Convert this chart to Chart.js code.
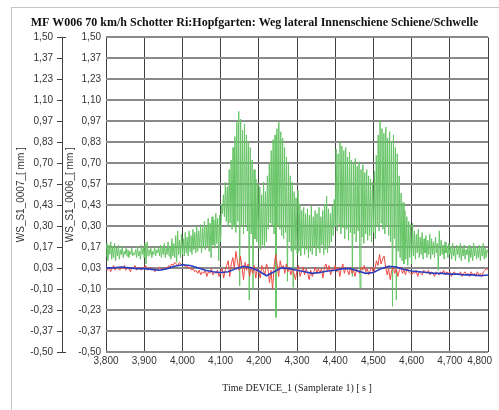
<!DOCTYPE html>
<html>
<head>
<meta charset="utf-8">
<script src="https://cdn.jsdelivr.net/npm/chart.js@4.4.1/dist/chart.umd.min.js"></script>
<style>
  html, body { margin: 0; padding: 0; background: #fff; }
  canvas { display: block; }
</style>
</head>
<body>
<canvas id="myChart" width="499" height="410"></canvas>
<script>
// time axis: every series starts at 3.8 s, each has its own sample step
const T_START = 3.8;
const STEP_GREEN = 0.0025;
const STEP_RED = 0.004;
const STEP_BLUE = 0.02;

const X_TICKS = [3.8, 3.9, 4.0, 4.1, 4.2, 4.3, 4.4, 4.5, 4.6, 4.7, 4.8];
const Y_TICKS = [1.5, 1.3667, 1.2333, 1.1, 0.9667, 0.8333, 0.7, 0.5667, 0.4333, 0.3, 0.1667, 0.0333, -0.1, -0.2333, -0.3667, -0.5];

// WS_S1_0006 (green), one row = 25 ms
const greenValues = [
    0.11, 0.19, 0.08, 0.18, 0.12, 0.20, 0.09, 0.17, 0.10, 0.19,
    0.08, 0.16, 0.11, 0.18, 0.09, 0.15, 0.12, 0.17, 0.10, 0.14,
    0.12, 0.16, 0.11, 0.15, 0.10, 0.14, 0.12, 0.16, 0.11, 0.13,
    0.12, 0.15, 0.10, 0.17, 0.11, 0.14, 0.09, 0.18, 0.12, 0.16,
    0.10, 0.19, 0.06, 0.20, 0.11, 0.15, 0.12, 0.16, 0.10, 0.14,
    0.12, 0.17, 0.11, 0.15, 0.13, 0.16, 0.11, 0.18, 0.10, 0.17,
    0.12, 0.19, 0.10, 0.16, 0.12, 0.20, 0.11, 0.17, 0.09, 0.22,
    0.11, 0.19, 0.10, 0.24, 0.07, 0.27, 0.12, 0.21, 0.10, 0.25,
    0.12, 0.22, 0.11, 0.26, 0.13, 0.23, 0.11, 0.27, 0.14, 0.24,
    0.12, 0.28, 0.15, 0.26, 0.13, 0.30, 0.14, 0.27, 0.16, 0.31,
    0.13, 0.29, 0.16, 0.33, 0.15, 0.30, 0.17, 0.35, 0.14, 0.32,
    0.10, 0.36, 0.18, 0.34, 0.16, 0.38, 0.19, 0.35, 0.08, 0.37,
    0.20, 0.44, 0.38, 0.50, 0.36, 0.58, 0.33, 0.55, 0.30, 0.66,
    0.32, 0.72, 0.28, 0.80, 0.30, 0.87, 0.26, 0.96, 0.33, 1.03,
    -0.08, 0.98, 0.30, 0.91, 0.25, 0.95, 0.31, 0.88, 0.27, 0.84,
    -0.17, 0.80, 0.25, 0.72, -0.10, 0.66, 0.22, 0.60, 0.20, 0.57,
    0.17, 0.55, 0.15, 0.50, 0.18, 0.58, 0.16, 0.52, 0.20, 0.62,
    0.28, 0.70, 0.32, 0.78, 0.30, 0.85, 0.25, 0.88, -0.28, 0.92,
    0.30, 0.96, 0.28, 0.90, 0.24, 0.86, 0.22, 0.80, 0.26, 0.74,
    -0.05, 0.70, 0.20, 0.62, 0.14, 0.58, -0.09, 0.52, 0.15, 0.48,
    0.12, 0.53, 0.14, 0.44, 0.11, 0.40, 0.16, 0.42, 0.12, 0.38,
    0.15, 0.41, 0.10, 0.37, 0.14, 0.43, 0.12, 0.36, 0.17, 0.40,
    0.11, 0.38, 0.16, 0.42, 0.13, 0.36, 0.18, 0.40, 0.12, 0.44,
    0.15, 0.49, 0.13, 0.41, 0.17, 0.38, 0.20, 0.43, 0.24, 0.47,
    0.30, 0.79, 0.27, 0.76, 0.31, 0.83, 0.25, 0.81, 0.29, 0.78,
    0.22, 0.80, 0.28, 0.74, 0.21, 0.77, 0.26, 0.72, -0.02, 0.70,
    0.25, 0.73, 0.20, 0.68, 0.27, 0.71, -0.09, 0.66, 0.23, 0.69,
    0.19, 0.64, 0.25, 0.66, 0.21, 0.62, 0.24, 0.60, 0.20, 0.58,
    0.26, 0.65, 0.22, 0.75, 0.30, 0.88, 0.27, 0.97, 0.32, 0.92,
    0.28, 0.89, 0.25, 0.93, 0.30, 0.86, 0.24, 0.90, 0.20, 0.84,
    -0.21, 0.88, 0.22, 0.80, -0.17, 0.76, 0.14, 0.62, 0.10, 0.51,
    0.08, 0.45, 0.06, 0.40, 0.09, 0.36, 0.05, 0.33, 0.10, 0.31,
    0.06, 0.32, 0.11, 0.27, 0.09, 0.25, 0.13, 0.28, 0.10, 0.23,
    0.12, 0.26, 0.09, 0.22, 0.13, 0.24, 0.10, 0.21, 0.12, 0.25,
    0.09, 0.22, 0.12, 0.20, 0.10, 0.23, 0.13, 0.19, 0.02, 0.27,
    0.11, 0.21, 0.12, 0.18, 0.09, 0.20, 0.13, 0.17, 0.10, 0.19,
    0.12, 0.17, 0.09, 0.19, 0.11, 0.16, 0.08, 0.18, 0.12, 0.17,
    0.10, 0.19, 0.08, 0.16, 0.11, 0.18, 0.09, 0.15, 0.12, 0.17,
    0.07, 0.18, 0.10, 0.16, 0.08, 0.19, 0.11, 0.17, 0.09, 0.16,
    0.10, 0.18, 0.08, 0.17, 0.11, 0.19, 0.09, 0.16, 0.10, 0.15,
    0.13
];

// WS_S1_0007 (red), one row = 40 ms
const redValues = [
    0.03, 0.02, 0.04, 0.01, 0.03, 0.05, 0.02, 0.04, 0.03, 0.02,
    0.04, 0.03, 0.05, 0.02, 0.04, 0.03, 0.01, 0.04, 0.03, 0.05,
    0.02, 0.04, 0.03, 0.02, 0.04, 0.03, 0.05, 0.02, 0.03, 0.04,
    0.02, 0.03, 0.01, 0.03, 0.02, 0.04, 0.03, 0.02, 0.03, 0.04,
    0.03, 0.05, 0.04, 0.06, 0.05, 0.07, 0.06, 0.05, 0.07, 0.06,
    0.05, 0.06, 0.04, 0.05, 0.03, 0.04, 0.02, 0.03, 0.01, 0.02,
    0.00, 0.02, -0.01, 0.01, 0.00, 0.02, -0.02, 0.01, 0.00, 0.03,
    -0.01, 0.01, 0.00, 0.02, -0.02, 0.01, 0.03, -0.03, 0.02, 0.05,
    0.08, -0.02, 0.06, 0.10, 0.03, 0.14, 0.08, 0.02, 0.11, 0.04,
    -0.04, 0.07, 0.02, 0.06, -0.02, 0.04, 0.00, 0.05, -0.03, 0.03,
    0.01, -0.03, 0.05, 0.02, -0.01, 0.06, 0.03, -0.06, 0.02, -0.10,
    0.04, 0.12, 0.06, -0.02, 0.08, 0.03, 0.05, 0.00, 0.06, 0.01,
    0.04, -0.01, 0.03, 0.00, -0.04, 0.02, 0.05, -0.02, 0.01, 0.04,
    -0.01, 0.03, 0.00, -0.04, 0.02, -0.02, 0.01, 0.04, 0.00, 0.03,
    0.00, 0.03, -0.03, 0.04, 0.06, 0.01, 0.05, -0.01, 0.03, 0.02,
    0.05, 0.01, 0.04, -0.02, 0.03, 0.06, 0.00, 0.04, 0.02, -0.01,
    0.04, 0.00, 0.02, -0.02, 0.03, 0.01, 0.00, 0.04, 0.02, 0.05,
    0.01, 0.03, -0.01, 0.02, 0.04, 0.00, 0.03, 0.08, 0.05, 0.12,
    0.06, 0.09, 0.11, 0.04, -0.01, 0.03, -0.04, 0.02, 0.04, 0.00,
    0.03, -0.02, 0.02, 0.04, 0.00, 0.02, -0.01, 0.03, 0.01, 0.00,
    -0.01, 0.01, 0.00, 0.02, -0.02, 0.01, 0.00, -0.01, 0.02, 0.01,
    0.00, 0.02, -0.01, 0.01, 0.00, -0.02, 0.01, 0.00, -0.01, 0.01,
    0.00, 0.02, -0.01, 0.01, 0.00, 0.01, -0.02, 0.00, 0.01, -0.01,
    0.00, -0.01, 0.01, -0.02, 0.00, 0.01, -0.01, 0.00, -0.02, 0.01,
    -0.01, 0.00, -0.02, 0.01, -0.01, 0.00, -0.02, 0.01, 0.02, 0.03,
    0.02
];

// smoothed trace (blue), one row = 200 ms
const blueValues = [
    0.035, 0.035, 0.04, 0.035, 0.03, 0.03, 0.025, 0.02, 0.03, 0.045,
    0.055, 0.05, 0.035, 0.02, 0.01, 0.005, 0.01, 0.03, 0.045, 0.035,
    0.015, -0.015, 0.01, 0.035, 0.03, 0.02, 0.01, 0.0, 0.005, 0.015,
    0.02, 0.03, 0.03, 0.015, 0.0, 0.005, 0.03, 0.045, 0.04, 0.025,
    0.015, 0.01, 0.005, 0.0, 0.0, -0.005, -0.005, -0.01, -0.01, -0.015,
    -0.01
];

function series(values, step) {
    return values.map((v, i) => ({ x: T_START + i * step, y: v }));
}

const fmtY = v => v.toFixed(2).replace('.', ',');
// last time label sits left of its tick, like the original export
const fmtX = v => v.toFixed(3).replace('.', ',') + (v >= 4.8 ? '\u00a0'.repeat(6) : '');
const tickFont = { family: 'Liberation Sans', size: 10 };
const axisDark = '#404040';

const framePlugin = {
    id: 'frame',
    beforeDraw(chart) {
        const c = chart.ctx;
        c.save();
        c.fillStyle = '#fff';
        c.fillRect(0, 0, chart.width, chart.height);
        c.strokeStyle = '#c4c4c4';
        c.lineWidth = 1;
        c.strokeRect(11.5, 7.5, 700, 700);
        c.restore();
    },
    afterDraw(chart) {
        // little caps at both ends of the outer axis
        const s = chart.scales.y2;
        const c = chart.ctx;
        c.save();
        c.strokeStyle = axisDark;
        c.lineWidth = 1;
        [s.max, s.min].forEach(v => {
            const py = Math.round(s.getPixelForValue(v)) + 0.5;
            c.beginPath();
            c.moveTo(s.right, py);
            c.lineTo(s.right + 4, py);
            c.stroke();
        });
        c.restore();
    }
};

new Chart(document.getElementById('myChart'), {
    type: 'line',
    data: {
        datasets: [
            {
                label: 'blue',
                data: series(blueValues, STEP_BLUE),
                borderColor: '#2a3fc0',
                borderWidth: 1.6,
                yAxisID: 'y'
            },
            {
                label: 'WS_S1_0007',
                data: series(redValues, STEP_RED),
                borderColor: '#ee4a42',
                borderWidth: 1,
                yAxisID: 'y2'
            },
            {
                label: 'WS_S1_0006',
                data: series(greenValues, STEP_GREEN),
                borderColor: '#66c466',
                borderWidth: 1,
                yAxisID: 'y'
            }
        ]
    },
    options: {
        responsive: false,
        animation: false,
        events: [],
        elements: { point: { radius: 0 }, line: { tension: 0 } },
        layout: { padding: { left: 10, right: 0, top: 0, bottom: 0 } },
        plugins: {
            legend: { display: false },
            tooltip: { enabled: false },
            title: {
                display: true,
                text: 'MF W006 70 km/h Schotter Ri:Hopfgarten: Weg lateral Innenschiene Schiene/Schwelle',
                color: '#111',
                font: { family: 'Liberation Serif', size: 12, weight: 'bold' },
                padding: { top: 16, bottom: 7 }
            }
        },
        scales: {
            x: {
                type: 'linear',
                min: 3.8,
                max: 4.8,
                afterBuildTicks: s => { s.ticks = X_TICKS.map(value => ({ value })); },
                afterFit: s => { s.height = 58; s.paddingRight = 11; },
                ticks: { callback: fmtX, color: '#333', font: tickFont, padding: 3, maxRotation: 0, autoSkip: false },
                grid: { color: axisDark, lineWidth: 1, drawTicks: false },
                border: { display: false },
                title: {
                    display: true,
                    text: 'Time DEVICE_1 (Samplerate 1) [ s ]',
                    color: '#222',
                    font: { family: 'Liberation Serif', size: 10 },
                    padding: { top: 0, bottom: 16 }
                }
            },
            y: {
                position: 'left',
                min: -0.5,
                max: 1.5,
                afterBuildTicks: s => { s.ticks = Y_TICKS.map(value => ({ value })); },
                afterFit: s => { s.width = 44; },
                ticks: { callback: fmtY, color: '#333', font: tickFont, padding: 5, autoSkip: false },
                grid: { color: '#8a8a8a', lineWidth: 2, drawTicks: false },
                border: { display: false },
                title: {
                    display: true,
                    text: 'WS_S1_0006_[ mm ]',
                    color: '#333',
                    font: { family: 'Liberation Sans', size: 10 },
                    padding: { top: 2, bottom: 0 }
                }
            },
            y2: {
                position: 'left',
                min: -0.5,
                max: 1.5,
                afterBuildTicks: s => { s.ticks = Y_TICKS.map(value => ({ value })); },
                afterFit: s => { s.width = 52; },
                ticks: { callback: fmtY, color: '#333', font: tickFont, padding: 4, autoSkip: false },
                grid: { display: true, drawOnChartArea: false, drawTicks: true, tickLength: 5, color: axisDark },
                border: { display: true, color: axisDark, width: 1 },
                title: {
                    display: true,
                    text: 'WS_S1_0007_[ mm ]',
                    color: '#333',
                    font: { family: 'Liberation Sans', size: 10 },
                    padding: { top: 5, bottom: 0 }
                }
            }
        }
    },
    plugins: [framePlugin]
});
</script>
</body>
</html>
